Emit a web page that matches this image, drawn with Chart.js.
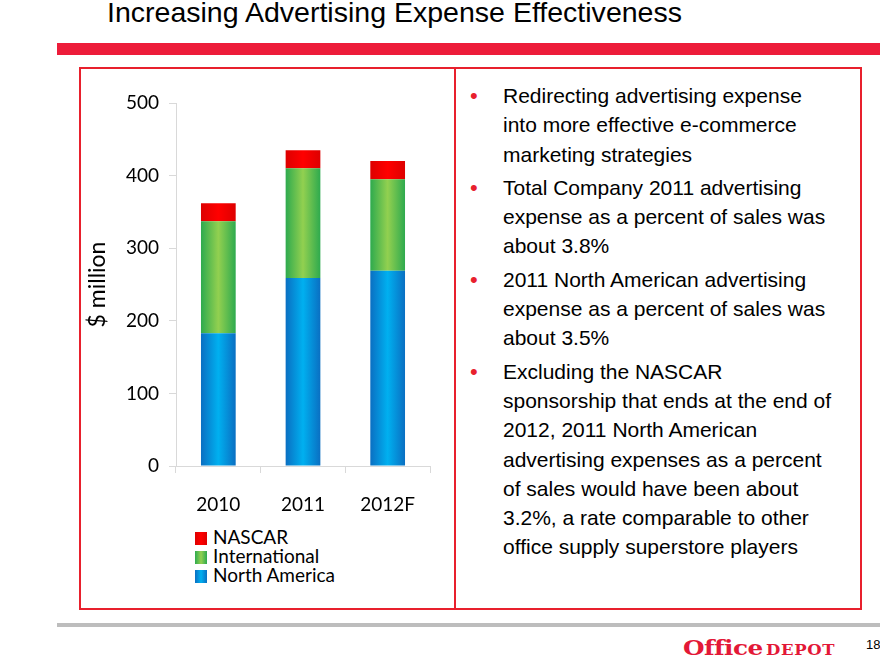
<!DOCTYPE html>
<html>
<head>
<meta charset="utf-8">
<script src="https://cdn.jsdelivr.net/npm/chart.js@4"></script>
<style>
  body { margin: 0; width: 880px; height: 660px; position: relative; background: #fff; overflow: hidden;
         font-family: "Liberation Sans", Arial, sans-serif; }
  #title { position: absolute; left: 107px; top: -3px; font-size: 28px; color: #000; white-space: nowrap;
           transform-origin: 0 0; }
  #redbar { position: absolute; left: 57px; top: 43px; width: 823px; height: 12px; background: #ed1c3a; }
  #frame { position: absolute; left: 79px; top: 67px; width: 779px; height: 539px; border: 2px solid #e8202d; }
  #divider { position: absolute; left: 454px; top: 67px; width: 2px; height: 541px; background: #e8202d; }
  #chartBox { position: absolute; left: 80px; top: 80px; width: 375px; height: 440px; }
  #legend { position: absolute; left: 195px; top: 527px; font-family: Lato, "Open Sans", sans-serif; font-size: 19px; }
  #legend div { height: 19px; line-height: 19px; white-space: nowrap; }
  #legend span { display: inline-block; width: 12px; height: 13px; margin-right: 6px; vertical-align: -1px; }
  #bullets { position: absolute; left: 466px; top: 81px; font-size: 21px; line-height: 29.3px; color: #000; }
  #bullets p { margin: 0 0 4px 0; padding-left: 37px; position: relative; white-space: nowrap; }
  #bullets p:before { content: "\2022"; color: #e8202d; position: absolute; left: 4px; top: 0; font-size: 22px; }
  #grayline { position: absolute; left: 57px; top: 623px; width: 823px; height: 4px; background: #bdbdbd; }
  #logo { position: absolute; left: 683px; top: 637px; color: #e31837; font-family: "DejaVu Serif", serif;
          font-weight: bold; white-space: nowrap; transform-origin: 0 0; line-height: 22px; }
  #logo .o { font-size: 21px; letter-spacing: -0.5px; }
  #logo .d { font-size: 14px; margin-left: 3px; letter-spacing: 0.5px; }
  #page { position: absolute; left: 866px; top: 637px; font-size: 13px; color: #000; }
</style>
</head>
<body>
<div id="title">Increasing Advertising Expense Effectiveness</div>
<div id="redbar"></div>
<div id="frame"></div>
<div id="divider"></div>
<div id="chartBox"><canvas id="chart" width="375" height="440"></canvas></div>
<div id="legend"></div>
<div id="bullets">
  <p>Redirecting advertising expense<br>into more effective e-commerce<br>marketing strategies</p>
  <p>Total Company 2011 advertising<br>expense as a percent of sales was<br>about 3.8%</p>
  <p>2011 North American advertising<br>expense as a percent of sales was<br>about 3.5%</p>
  <p>Excluding the NASCAR<br>sponsorship that ends at the end of<br>2012, 2011 North American<br>advertising expenses as a percent<br>of sales would have been about<br>3.2%, a rate comparable to other<br>office supply superstore players</p>
</div>
<div id="grayline"></div>
<div id="logo"><span class="o">Office</span><span class="d">DEPOT</span></div>
<div id="page">18</div>

<script>
// chart data ($ million)
const years = ['2010', '2011', '2012F'];
const northAmerica = [183, 259, 269];
const international = [154, 151, 126];
const nascar = [25, 25, 25];
const yTicks = [0, 100, 200, 300, 400, 500];

const barPct = 0.41;

// squeeze/stretch a text block horizontally to a given width
function fitWidth(id, w) {
  const el = document.getElementById(id);
  const cur = el.getBoundingClientRect().width;
  el.style.transform = `scaleX(${w / cur})`;
}
fitWidth('title', 575);
fitWidth('logo', 152);

// horizontal gradient so each bar looks like the shaded original
function barFill(edge, mid) {
  return function(ctx) {
    const chart = ctx.chart;
    const xs = chart.scales.x;
    if (!chart.chartArea || !xs) return mid;
    const cx = xs.getPixelForValue(ctx.dataIndex);
    const half = xs.width / years.length * barPct / 2;
    const g = chart.ctx.createLinearGradient(cx - half, 0, cx + half, 0);
    g.addColorStop(0, edge);
    g.addColorStop(0.5, mid);
    g.addColorStop(1, edge);
    return g;
  };
}

const series = [
  { label: 'North America', data: northAmerica, edge: '#0a6fc2', mid: '#00b0f0' },
  { label: 'International', data: international, edge: '#2eaa4e', mid: '#92d050' },
  { label: 'NASCAR', data: nascar, edge: '#dd0000', mid: '#ff0000' }
];

// legend, top item is the top stack
const legend = document.getElementById('legend');
series.slice().reverse().forEach(s => {
  const row = document.createElement('div');
  const sw = document.createElement('span');
  sw.style.background = `linear-gradient(to right, ${s.edge}, ${s.mid}, ${s.edge})`;
  row.appendChild(sw);
  row.appendChild(document.createTextNode(s.label));
  legend.appendChild(row);
});

const tickFont = { family: 'Lato, "Open Sans", sans-serif', size: 19 };
const axisGray = '#d9d9d9';

new Chart(document.getElementById('chart'), {
  type: 'bar',
  data: {
    labels: years,
    datasets: series.map(s => ({
      label: s.label,
      data: s.data,
      backgroundColor: barFill(s.edge, s.mid),
      borderWidth: 0,
      barPercentage: barPct,
      categoryPercentage: 1
    }))
  },
  options: {
    responsive: false,
    animation: false,
    layout: { padding: { top: 23, right: 25, left: 0, bottom: 0 } },
    plugins: { legend: { display: false }, tooltip: { enabled: false } },
    scales: {
      x: {
        stacked: true,
        grid: { drawOnChartArea: false, tickLength: 7, color: axisGray },
        border: { color: axisGray },
        ticks: { font: tickFont, color: '#000', padding: 20 },
        afterFit: s => { s.height = 54; }
      },
      y: {
        stacked: true,
        min: 0,
        max: 500,
        afterBuildTicks: s => { s.ticks = yTicks.map(v => ({ value: v })); },
        grid: { drawOnChartArea: false, tickLength: 7, color: axisGray },
        border: { color: axisGray },
        ticks: { font: tickFont, color: '#000', padding: 10 },
        title: { display: true, text: '$ million', font: { family: 'Lato, "Open Sans", sans-serif', size: 23 }, color: '#000', padding: 4 },
        afterFit: s => { s.width = 96; }
      }
    }
  }
});
</script>
</body>
</html>
